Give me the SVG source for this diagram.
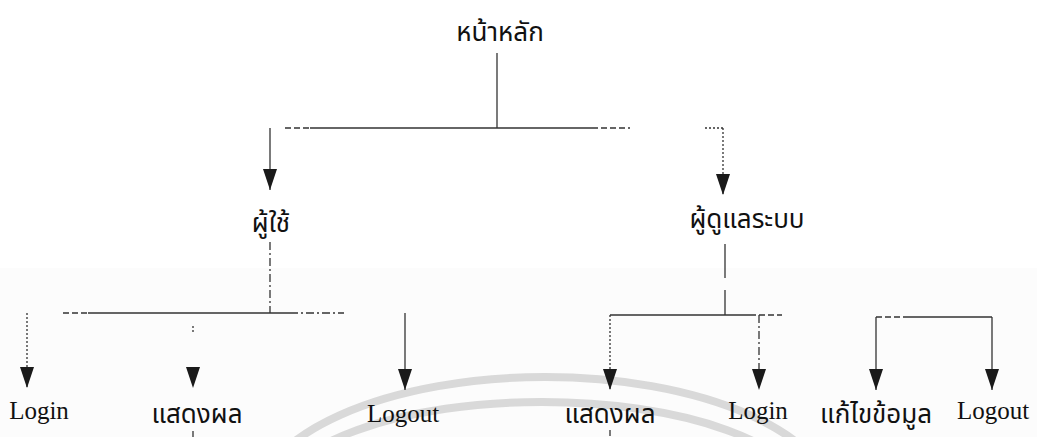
<svg xmlns="http://www.w3.org/2000/svg" width="1037" height="437" viewBox="0 0 1037 437">
  <style>
    .th { font-family: "Noto Sans Thai", "Noto Sans", "DejaVu Sans", sans-serif; font-size: 26px; fill: #111; text-anchor: middle; }
    .en { font-family: "Liberation Serif", "Times New Roman", serif; font-size: 25px; fill: #111; text-anchor: middle; }
    .ln { stroke: #333; stroke-width: 1.3; fill: none; }
    .ds { stroke-dasharray: 6 3; }
    .dt { stroke-dasharray: 2 2; }
    .dd { stroke-dasharray: 8 3 2 3; }
    .wm { fill: none; stroke: #d9d9d9; stroke-width: 8; }
  </style>
  <defs>
    <marker id="arrow" markerUnits="userSpaceOnUse" viewBox="0 0 21 14" refX="21" refY="7" markerWidth="21" markerHeight="14" orient="auto">
      <path d="M0,0 L21,7 L0,14 Z" fill="#1a1a1a"/>
    </marker>
  </defs>

  <rect width="1037" height="437" fill="#ffffff"/>
  <rect x="0" y="268" width="1037" height="169" fill="#fcfcfc"/>

  <!-- faint watermark arcs -->
  <g id="watermark">
    <path class="wm" d="M255,507 A290,130 0 0 1 835,507"/>
    <path class="wm" d="M280,498 A262,96 0 0 1 804,498"/>
  </g>

  <g id="connectors">
    <!-- root to first level -->
    <line class="ln" x1="497" y1="53" x2="497" y2="128"/>
    <line class="ln ds" x1="285" y1="128" x2="310" y2="128"/>
    <line class="ln" x1="310" y1="128" x2="592" y2="128"/>
    <line class="ln ds" x1="592" y1="128" x2="630" y2="128"/>
    <line class="ln dt" x1="705" y1="128" x2="723" y2="128"/>
    <line class="ln" x1="270" y1="128" x2="270" y2="190" marker-end="url(#arrow)"/>
    <line class="ln dt" x1="723" y1="128" x2="723" y2="195" marker-end="url(#arrow)"/>

    <!-- user branch -->
    <line class="ln dd" x1="270" y1="242" x2="270" y2="313"/>
    <line class="ln ds" x1="63" y1="313" x2="88" y2="313"/>
    <line class="ln" x1="88" y1="313" x2="290" y2="313"/>
    <line class="ln dd" x1="290" y1="313" x2="344" y2="313"/>
    <line class="ln dt" x1="27" y1="313" x2="27" y2="388" marker-end="url(#arrow)"/>
    <line class="ln dt" x1="193" y1="326" x2="193" y2="334"/>
    <path d="M186,367 L200,367 L193,388 Z" fill="#1a1a1a"/>
    <line class="ln" x1="405" y1="313" x2="405" y2="390" marker-end="url(#arrow)"/>
    <line class="ln ds" x1="193" y1="431" x2="193" y2="437"/>

    <!-- admin branch -->
    <line class="ln" x1="725" y1="244" x2="725" y2="278"/>
    <line class="ln" x1="725" y1="290" x2="725" y2="315"/>
    <line class="ln" x1="610" y1="315" x2="750" y2="315"/>
    <line class="ln ds" x1="750" y1="315" x2="782" y2="315"/>
    <line class="ln dt" x1="610" y1="315" x2="610" y2="390" marker-end="url(#arrow)"/>
    <line class="ln dd" x1="759" y1="315" x2="759" y2="390" marker-end="url(#arrow)"/>
    <line class="ln ds" x1="610" y1="430" x2="610" y2="437"/>

    <!-- edit / logout pair -->
    <line class="ln ds" x1="876" y1="317" x2="905" y2="317"/>
    <line class="ln" x1="905" y1="317" x2="992" y2="317"/>
    <line class="ln" x1="876" y1="317" x2="876" y2="390" marker-end="url(#arrow)"/>
    <line class="ln" x1="992" y1="317" x2="992" y2="390" marker-end="url(#arrow)"/>
  </g>

  <g id="node-home"><text class="th" x="500" y="41">หน้าหลัก</text></g>
  <g id="node-user"><text class="th" x="271" y="232">ผู้ใช้</text></g>
  <g id="node-admin"><text class="th" x="747" y="228">ผู้ดูแลระบบ</text></g>

  <g id="node-login-user"><text class="en" x="39" y="419">Login</text></g>
  <g id="node-show-user"><text class="th" x="197" y="423">แสดงผล</text></g>
  <g id="node-logout-user"><text class="en" x="403" y="422">Logout</text></g>

  <g id="node-show-admin"><text class="th" x="610" y="423">แสดงผล</text></g>
  <g id="node-login-admin"><text class="en" x="758" y="419">Login</text></g>
  <g id="node-edit"><text class="th" x="876" y="423">แก้ไขข้อมูล</text></g>
  <g id="node-logout-admin"><text class="en" x="993" y="419">Logout</text></g>
</svg>
